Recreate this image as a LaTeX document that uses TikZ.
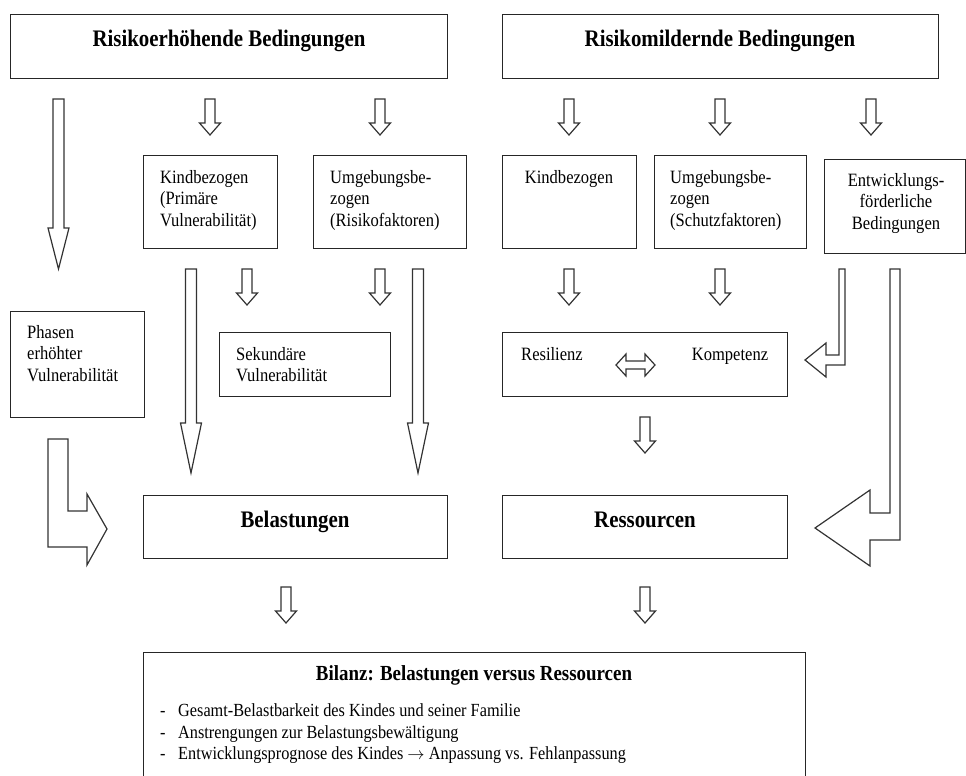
\documentclass[tikz,border=0pt]{standalone}
\usepackage{fontspec}
\setmainfont{Liberation Serif}[FakeStretch=0.88]
\newcommand\blockarrow[4]{\draw[arr] (#1-5.5,#2) -- (#1-5.5,#3) -- (#1-10.5,#3) -- (#1,#4) -- (#1+10.5,#3) -- (#1+5.5,#3) -- (#1+5.5,#2) -- cycle;}
\begin{document}
\begin{tikzpicture}[x=1pt,y=-1pt,
  box/.style={draw=black!85, line width=1.3pt, inner sep=0pt, anchor=north west},
  arr/.style={draw=black!80, line width=1.2pt, line join=miter, fill=white},
  txt/.style={inner sep=0pt, font=\fontsize{18.8}{21.7}\selectfont, align=left},
  ttl/.style={inner sep=0pt, font=\fontsize{23.7}{27}\selectfont\bfseries},
  smallarr/.pic={\draw[arr] (-5,0) -- (-5,24) -- (-10.5,24) -- (0,36) -- (10.5,24) -- (5,24) -- (5,0) -- cycle;}]
\useasboundingbox (0,0) rectangle (966,776);

% boxes
\node[box, minimum width=437, minimum height=64] (rh) at (10,14) {};
\node[box, minimum width=436, minimum height=64] (rm) at (502,14) {};
\node[box, minimum width=134, minimum height=93] (kb1) at (143,155) {};
\node[box, minimum width=153, minimum height=93] (ub1) at (313,155) {};
\node[box, minimum width=134, minimum height=93] (kb2) at (502,155) {};
\node[box, minimum width=152, minimum height=93] (ub2) at (654,155) {};
\node[box, minimum width=141, minimum height=94] (ew) at (824,159) {};
\node[box, minimum width=134, minimum height=106] (ph) at (10,311) {};
\node[box, minimum width=171, minimum height=64] (sk) at (219,332) {};
\node[box, minimum width=285, minimum height=64] (rk) at (502,332) {};
\node[box, minimum width=304, minimum height=63] (bel) at (143,495) {};
\node[box, minimum width=285, minimum height=63] (res) at (502,495) {};
\node[box, minimum width=662, minimum height=140] (bil) at (143,652) {};

% texts
\node[ttl, anchor=base] (trh) at (229,47) {Risikoerhöhende Bedingungen};
\node[ttl, anchor=base] (trm) at (720,47) {Risikomildernde Bedingungen};
\node[txt, anchor=north west] (tkb1) at (160,170) {Kindbezogen\\(Primäre\\Vulnerabilität)};
\node[txt, anchor=north west] (tub1) at (330,170) {Umgebungsbe-\\zogen\\(Risikofaktoren)};
\node[txt, anchor=base] (tkb2) at (569,183) {Kindbezogen};
\node[txt, anchor=north west] (tub2) at (670,170) {Umgebungsbe-\\zogen\\(Schutzfaktoren)};
\node[txt, anchor=north, align=center] (tew) at (896,173) {Entwicklungs-\\förderliche\\Bedingungen};
\node[txt, anchor=north west] (tph) at (27,325) {Phasen\\erhöhter\\Vulnerabilität};
\node[txt, anchor=north west] (tsk) at (236,347) {Sekundäre\\Vulnerabilität};
\node[txt, anchor=base] (tres) at (552,360) {Resilienz};
\node[txt, anchor=base] (tkom) at (730,360) {Kompetenz};
\node[ttl, anchor=base] (tbel) at (295,527) {Belastungen};
\node[ttl, anchor=base] (tress) at (645,527) {Ressourcen};
\node[inner sep=0pt, font=\fontsize{21.5}{25}\selectfont\bfseries, anchor=base] (tbil) at (474,680) {Bilanz: Belastungen versus Ressourcen};
\node[txt, anchor=north west, font=\fontsize{18.5}{21.6}\selectfont] (tlist) at (160,703.5)
 {\makebox[18pt][l]{-}Gesamt-Belastbarkeit des Kindes und seiner Familie\\
  \makebox[18pt][l]{-}Anstrengungen zur Belastungsbewältigung\\
  \makebox[18pt][l]{-}Entwicklungsprognose des Kindes $\rightarrow$ Anpassung vs. Fehlanpassung};

% small arrows
\foreach \x in {210,380,569,720,871} \pic at (\x,99) {smallarr};
\foreach \x in {247,380,569,720} \pic at (\x,269) {smallarr};
\pic at (645,417) {smallarr};
\pic at (286,587) {smallarr};
\pic at (645,587) {smallarr};

% long arrows
\blockarrow{58.5}{99}{228}{269}
\blockarrow{191}{269}{423}{473}
\blockarrow{418}{269}{423}{473}

% bent arrow Phasen -> Belastungen
\draw[arr] (48,439) -- (68,439) -- (68,511) -- (87,511) -- (87,494) -- (107,529)
  -- (87,565) -- (87,547) -- (48,547) -- cycle;

% thin bent arrow Entwicklungs -> Resilienz/Kompetenz
\draw[arr] (839,269) -- (839,355) -- (826,355) -- (826,343) -- (805,360)
  -- (826,377) -- (826,365) -- (845,365) -- (845,269) -- cycle;

% big bent arrow Entwicklungs -> Ressourcen
\draw[arr] (890,269) -- (890,513) -- (870,513) -- (870,490) -- (815,528)
  -- (870,566) -- (870,540) -- (900,540) -- (900,269) -- cycle;

% double arrow Resilienz <-> Kompetenz
\draw[arr] (616,365) -- (626,354) -- (626,361) -- (645,361) -- (645,354) -- (655,365)
  -- (645,376) -- (645,369) -- (626,369) -- (626,376) -- cycle;
\end{tikzpicture}
\end{document}
